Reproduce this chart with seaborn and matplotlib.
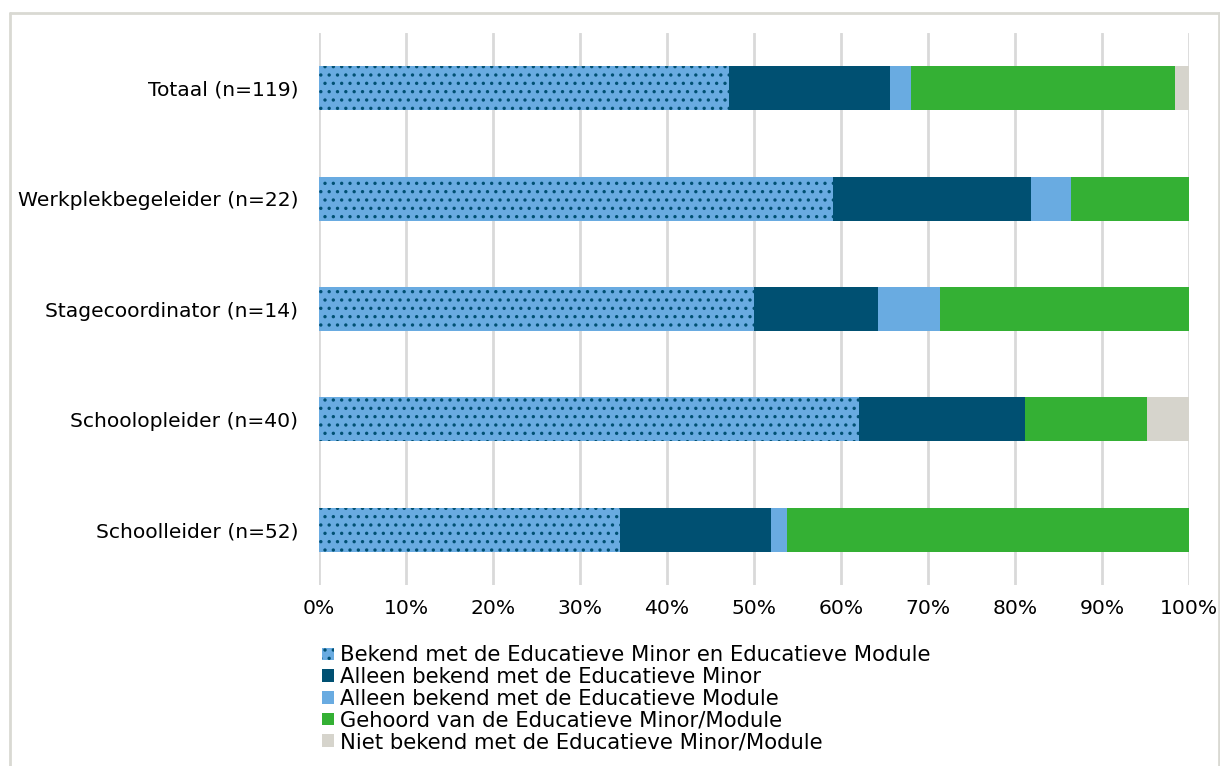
import pandas as pd
import numpy as np
import matplotlib
matplotlib.use("Agg")
import matplotlib.pyplot as plt
import seaborn as sns
from matplotlib.lines import Line2D
from matplotlib.ticker import PercentFormatter

# categories (top to bottom) and the five answer groups, in percent
categories = ["Totaal (n=119)", "Werkplekbegeleider (n=22)", "Stagecoordinator (n=14)",
              "Schoolopleider (n=40)", "Schoolleider (n=52)"]
series = ["Bekend met de Educatieve Minor en Educatieve Module",
          "Alleen bekend met de Educatieve Minor",
          "Alleen bekend met de Educatieve Module",
          "Gehoord van de Educatieve Minor/Module",
          "Niet bekend met de Educatieve Minor/Module"]
bekend_beide = [47.1, 59.1, 50.0, 62.1, 34.6]
alleen_minor = [18.5, 22.7, 14.3, 19.0, 17.3]
alleen_module = [2.5, 4.6, 7.1, 0.0, 1.9]
gehoord = [30.3, 13.6, 28.6, 14.1, 46.2]
niet_bekend = [1.6, 0.0, 0.0, 4.8, 0.0]
colors = ["#69abe1", "#005072", "#69abe1", "#34b034", "#d6d4cc"]

# long table for seaborn
rows = []
for s, vals in zip(series, [bekend_beide, alleen_minor, alleen_module, gehoord, niet_bekend]):
    for c, v in zip(categories, vals):
        rows.append({"cat": c, "serie": s, "pct": v})
df = pd.DataFrame(rows)

sns.set_style("white")
plt.rcParams["font.family"] = ["DejaVu Sans"]
plt.rcParams["hatch.linewidth"] = 1.2

fig = plt.figure(figsize=(12.2, 7.66), dpi=100)
ax = fig.add_axes([319 / 1220, 1 - 585 / 766, 870 / 1220, 552 / 766])

# seaborn stacks the last hue level at the bottom -> reverse the order
sns.histplot(data=df, y="cat", weights="pct", hue="serie", hue_order=series[::-1],
             palette=dict(zip(series, colors)), multiple="stack", discrete=True,
             shrink=0.4, alpha=1, linewidth=0, legend=False, ax=ax)

# patches come out in series order, 5 bars each
handles = {}
n = len(categories)
for i, s in enumerate(series):
    bars = ax.patches[i * n:(i + 1) * n]
    handles[s] = bars[0]
    if i == 0:
        for b in bars:
            b.set_hatch("..")
            b.set_edgecolor("#005072")
            b.set_linewidth(0)

ax.set_xlim(0, 100)
ax.set_ylim(len(categories) - 0.5, -0.5)
ax.set_xticks(np.arange(0, 101, 10))
ax.xaxis.set_major_formatter(PercentFormatter(decimals=0))
ax.set_xlabel("")
ax.set_ylabel("")
ax.grid(axis="x", color="#d9d9d9", linewidth=2)
ax.grid(axis="y", visible=False)
ax.set_axisbelow(True)
sns.despine(ax=ax, left=True, bottom=True)
ax.tick_params(axis="both", length=0, labelsize=14.6, colors="#000000")
ax.tick_params(axis="y", pad=15)
ax.tick_params(axis="x", pad=10)

leg = fig.legend([handles[s] for s in series], series, loc="upper left",
                 bbox_to_anchor=(314 / 1220, 1 - 637 / 766), frameon=False,
                 fontsize=15.2, labelcolor="#000000", handlelength=0.55, handleheight=0.55,
                 handletextpad=0.3, labelspacing=0.08, borderaxespad=0)

# outer frame
fc = "#d9d9d3"
fig.add_artist(Line2D([10 / 1220, 10 / 1220], [0, 1 - 13 / 766], color=fc, lw=2))
fig.add_artist(Line2D([10 / 1220, 1219 / 1220], [1 - 13 / 766, 1 - 13 / 766], color=fc, lw=2))
fig.add_artist(Line2D([1219 / 1220, 1219 / 1220], [0, 1 - 13 / 766], color=fc, lw=2))

fig.savefig("out.png", dpi=100)
